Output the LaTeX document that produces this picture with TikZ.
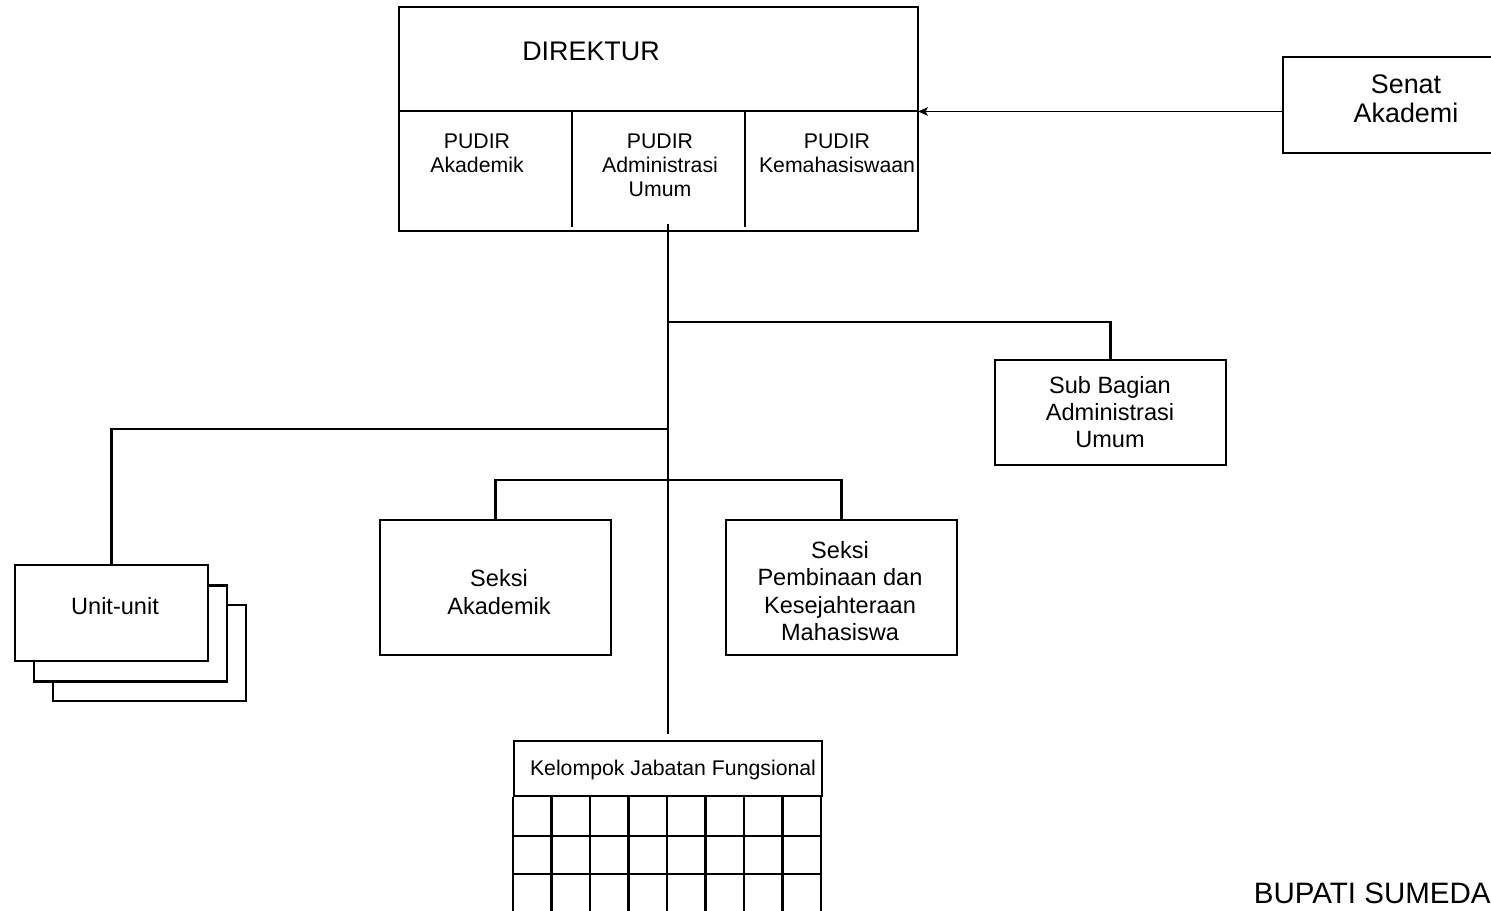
\documentclass[tikz,border=0pt]{standalone}
\usepackage{fontspec}
\setmainfont{Liberation Sans}
\usetikzlibrary{calc,arrows.meta}
\tikzset{orgbox/.style = {draw, line width=1.3pt, inner sep=0pt, fill=white},
         orgline/.style = {line width=1.3pt},
         bigtxt/.style = {font=\fontsize{15.3}{16.4}\selectfont, align=center, inner sep=0pt},
         midtxt/.style = {font=\fontsize{13.4}{15.6}\selectfont, align=center, inner sep=0pt},
         smalltxt/.style = {font=\fontsize{12.1}{13.6}\selectfont, align=center, inner sep=0pt}}

\begin{document}
\begin{tikzpicture}[x=0.02cm, y=-0.02cm]
\useasboundingbox (0,0) rectangle (1491,910);
\clip (0,0) rectangle (1491,910);
\fill[white] (0,0) rectangle (1491,910);
\node[orgbox, minimum width=10.38cm, minimum height=4.48cm] (direktur) at (658.5,119) {};
\draw[orgline] (399,111) -- (918,111);
\draw[orgline] (572,111) -- (572,227);
\draw[orgline] (745,111) -- (745,227);
\node[bigtxt] (dirtxt) at (591,51) {DIREKTUR};
\node[smalltxt] (pudirak) at (477,153) {PUDIR\\Akademik};
\node[smalltxt] (pudirum) at (660,165) {PUDIR\\Administrasi\\Umum};
\node[smalltxt] (pudirmhs) at (837,153) {PUDIR\\Kemahasiswaan};
\coordinate (divend) at (918,111.5);
\coordinate (trunktop) at (668,224);
\node[orgbox, minimum width=4.94cm, minimum height=1.92cm] (senat) at (1406.5,105) {};
\node[bigtxt] (senattxt) at (1406,99) {Senat\\Akademi};
\node[orgbox, minimum width=4.62cm, minimum height=2.1cm] (subbag) at (1110.5,412.5) {};
\node[midtxt] (subbagtxt) at (1110,412) {Sub Bagian\\Administrasi\\Umum};
\node[orgbox, minimum width=3.86cm, minimum height=1.92cm] (unitc) at (149.5,653) {};
\node[orgbox, minimum width=3.86cm, minimum height=1.92cm] (unitb) at (130.5,633.5) {};
\node[orgbox, minimum width=3.86cm, minimum height=1.92cm] (unit) at (111.5,613) {};
\node[midtxt] (unittxt) at (115,606) {Unit-unit};
\node[orgbox, minimum width=4.62cm, minimum height=2.7cm] (seksiak) at (495.5,587.5) {};
\node[midtxt] (seksiaktxt) at (499,592) {Seksi\\Akademik};
\node[orgbox, minimum width=4.62cm, minimum height=2.7cm] (seksimhs) at (841.5,587.5) {};
\node[midtxt] (seksimhstxt) at (840,591) {Seksi\\Pembinaan dan\\Kesejahteraan\\Mahasiswa};
\node[orgbox, minimum width=6.16cm, minimum height=1.1cm] (kelompok) at (668,768.5) {};
\node[smalltxt] (kelompoktxt) at (673,770) {Kelompok Jabatan Fungsional};
\foreach \c in {0,...,8}
  \draw[orgline] ($(kelompok.south west)+(38.5*\c,0)$) -- ++(0,150);
\foreach \r in {1,2,3}
  \draw[orgline] ($(kelompok.south west)+(0,38.5*\r)$) -- ++(308,0);
\draw[line width=1pt, -{Stealth[length=0.2cm, width=0.17cm, inset=0.05cm]}] (senat.west |- divend) -- (divend);
\draw[orgline] (trunktop) -- ([yshift=0.12cm]kelompok.north);
\draw[orgline] (trunktop |- 0,322) -| (subbag.north);
\draw[orgline] (trunktop |- 0,429) -| (unit.north);
\draw[orgline] (seksiak.north) -- ++(0,-39) -| (seksimhs.north);
\node[bigtxt, anchor=east, font=\fontsize{16.8}{18}\selectfont] (bupati) at (1491,893) {BUPATI SUMEDA};
\end{tikzpicture}
\end{document}
